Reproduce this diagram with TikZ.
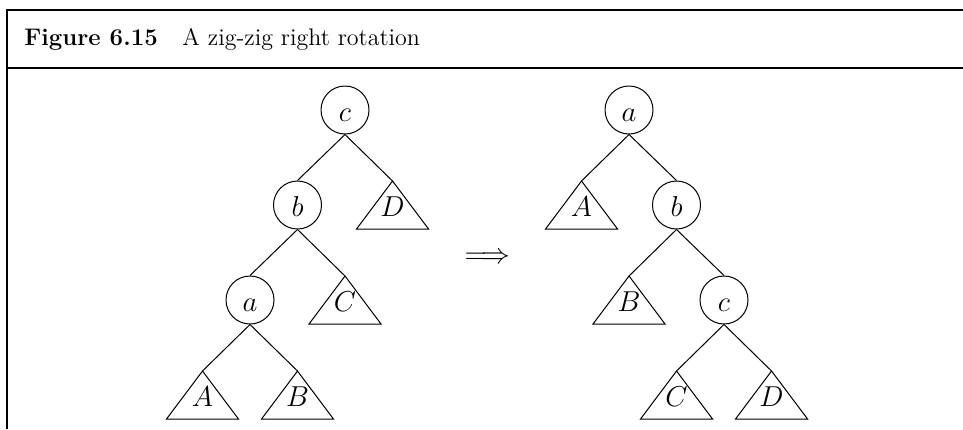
\documentclass[tikz,border=0pt]{standalone}
\begin{document}
\begin{tikzpicture}[x=0.5pt,y=-0.5pt,
  edge/.style={line width=0.5pt},
  lbl/.style={font=\fontsize{14.4}{17}\selectfont,text height=11.5pt,text depth=0pt},
  tn/.style={lbl,circle,draw,line width=0.5pt,minimum size=24pt,inner sep=0pt},
  st/.style={lbl,rectangle,draw=none,minimum width=36pt,minimum height=24pt,inner sep=0pt,outer sep=0pt},
  frame/.style={line width=0.9pt},
  titlefont/.style={anchor=base west,inner sep=0pt,font=\fontsize{12}{14}\selectfont}
]
\useasboundingbox (0,0) rectangle (963,429);
% frame
\coordinate (tr) at (963,10);
\coordinate (tl) at (7,10);
\coordinate (bl) at (7,429);
\coordinate (ml) at (7,68);
\coordinate (mr) at (963,68);
\draw[frame] (tr) -- (tl) -- (bl);
\draw[line width=1.4pt] (ml) -- (mr);
% title
\node[titlefont,font=\fontsize{12}{14}\selectfont\bfseries] (fig) at (24,45.5) {Figure 6.15};
\node[titlefont] (cap) at (182,45.5) {A zig-zig right rotation};
% left tree
\node[tn] (Lc) at (345,110) {$c$};
\node[tn] (Lb) at (297.5,205) {$b$};
\node[st] (LD) at (392.5,205) {$D$};
\node[tn] (La) at (250,300) {$a$};
\node[st] (LC) at (345,300) {$C$};
\node[st] (LA) at (202.5,395) {$A$};
\node[st] (LB) at (297.5,395) {$B$};
\draw[edge] (Lc.south) -- (Lb.north);
\draw[edge] (Lc.south) -- (LD.north);
\draw[edge] (Lb.south) -- (La.north);
\draw[edge] (Lb.south) -- (LC.north);
\draw[edge] (La.south) -- (LA.north);
\draw[edge] (La.south) -- (LB.north);
% arrow
\node[font=\fontsize{15.8}{18}\selectfont,inner sep=0pt] (arr) at (487.5,258) {$\Longrightarrow$};
% right tree
\node[tn] (Ra) at (629,110) {$a$};
\node[st] (RA) at (581.5,205) {$A$};
\node[tn] (Rb) at (676.5,205) {$b$};
\node[st] (RB) at (629,300) {$B$};
\node[tn] (Rc) at (724,300) {$c$};
\node[st] (RC) at (676.5,395) {$C$};
\node[st] (RD) at (771.5,395) {$D$};
\draw[edge] (Ra.south) -- (RA.north);
\draw[edge] (Ra.south) -- (Rb.north);
\draw[edge] (Rb.south) -- (RB.north);
\draw[edge] (Rb.south) -- (Rc.north);
\draw[edge] (Rc.south) -- (RC.north);
\draw[edge] (Rc.south) -- (RD.north);
% subtree triangles
\foreach \n in {LD,LC,LA,LB,RA,RB,RC,RD}
  \draw[edge] (\n.north) -- (\n.south west) -- (\n.south east) -- cycle;
\end{tikzpicture}
\end{document}
